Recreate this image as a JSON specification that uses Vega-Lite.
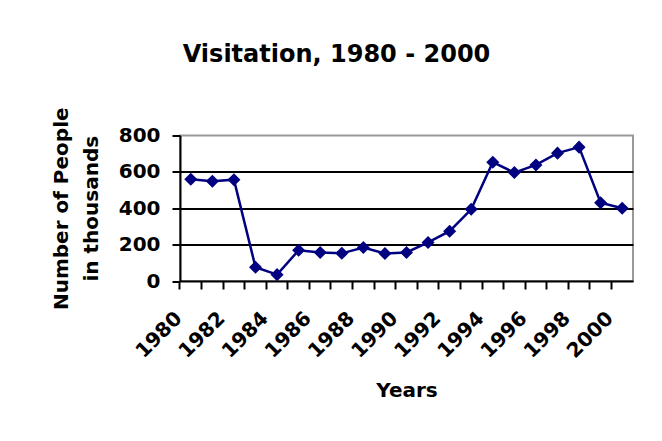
{
  "$schema": "https://vega.github.io/schema/vega-lite/v6.json",
  "width": 453,
  "height": 145.5,
  "autosize": {"type": "none"},
  "padding": {"left": 180, "top": 135.5, "right": 29, "bottom": 160},
  "background": "white",
  "title": {
    "text": "Visitation, 1980 - 2000",
    "font": "DejaVu Sans",
    "fontSize": 24,
    "fontWeight": "bold",
    "color": "black",
    "anchor": "middle",
    "frame": "group",
    "dx": -70,
    "baseline": "alphabetic",
    "offset": 21
  },
  "data": {
    "values": [
      {"year": 1980, "visitors": 560},
      {"year": 1981, "visitors": 548},
      {"year": 1982, "visitors": 557},
      {"year": 1983, "visitors": 76},
      {"year": 1984, "visitors": 35},
      {"year": 1985, "visitors": 169},
      {"year": 1986, "visitors": 157},
      {"year": 1987, "visitors": 152},
      {"year": 1988, "visitors": 184},
      {"year": 1989, "visitors": 151},
      {"year": 1990, "visitors": 157},
      {"year": 1991, "visitors": 212},
      {"year": 1992, "visitors": 274},
      {"year": 1993, "visitors": 394},
      {"year": 1994, "visitors": 653},
      {"year": 1995, "visitors": 596},
      {"year": 1996, "visitors": 638},
      {"year": 1997, "visitors": 703},
      {"year": 1998, "visitors": 736},
      {"year": 1999, "visitors": 430},
      {"year": 2000, "visitors": 400}
    ]
  },
  "encoding": {
    "x": {
      "field": "year",
      "type": "ordinal",
      "bandPosition": 0.5,
      "scale": {"type": "band", "paddingInner": 0, "paddingOuter": 0},
      "axis": {
        "title": "Years",
        "bandPosition": 0,
        "labelAngle": -45,
        "labelAlign": "right",
        "labelBaseline": "middle",
        "labelPadding": 26,
        "labelOffset": -12,
        "labelOverlap": false,
        "labelExpr": "datum.value % 2 == 0 ? datum.label : ''",
        "labelFont": "DejaVu Sans",
        "labelFontSize": 20,
        "labelFontWeight": "bold",
        "labelColor": "black",
        "tickSize": 8,
        "tickWidth": 2,
        "tickColor": "black",
        "domainColor": "black",
        "domainWidth": 2,
        "grid": false,
        "titleFont": "DejaVu Sans",
        "titleFontSize": 20,
        "titleFontWeight": "bold",
        "titleColor": "black",
        "titlePadding": 19
      }
    },
    "y": {
      "field": "visitors",
      "type": "quantitative",
      "scale": {"domain": [0, 800], "nice": false, "zero": true},
      "axis": {
        "title": ["Number of People", "in thousands"],
        "titleLineHeight": 30,
        "values": [0, 200, 400, 600, 800],
        "labelFont": "DejaVu Sans",
        "labelFontSize": 20,
        "labelFontWeight": "bold",
        "labelColor": "black",
        "labelPadding": 12,
        "tickSize": 8,
        "tickWidth": 2,
        "tickColor": "black",
        "domainColor": "black",
        "domainWidth": 2,
        "grid": true,
        "gridColor": "black",
        "gridWidth": 2,
        "gridOpacity": {"condition": {"test": "datum.value == 800 || datum.value == 0", "value": 0}, "value": 1},
        "titleFont": "DejaVu Sans",
        "titleFontSize": 20,
        "titleFontWeight": "bold",
        "titleColor": "black",
        "titlePadding": 17
      }
    }
  },
  "layer": [
    {"mark": {"type": "line", "color": "#000080", "strokeWidth": 2.5}},
    {"mark": {"type": "point", "shape": "diamond", "filled": true, "color": "#000080", "size": 170, "opacity": 1}}
  ],
  "config": {
    "view": {"stroke": "#999999", "strokeWidth": 2}
  }
}
